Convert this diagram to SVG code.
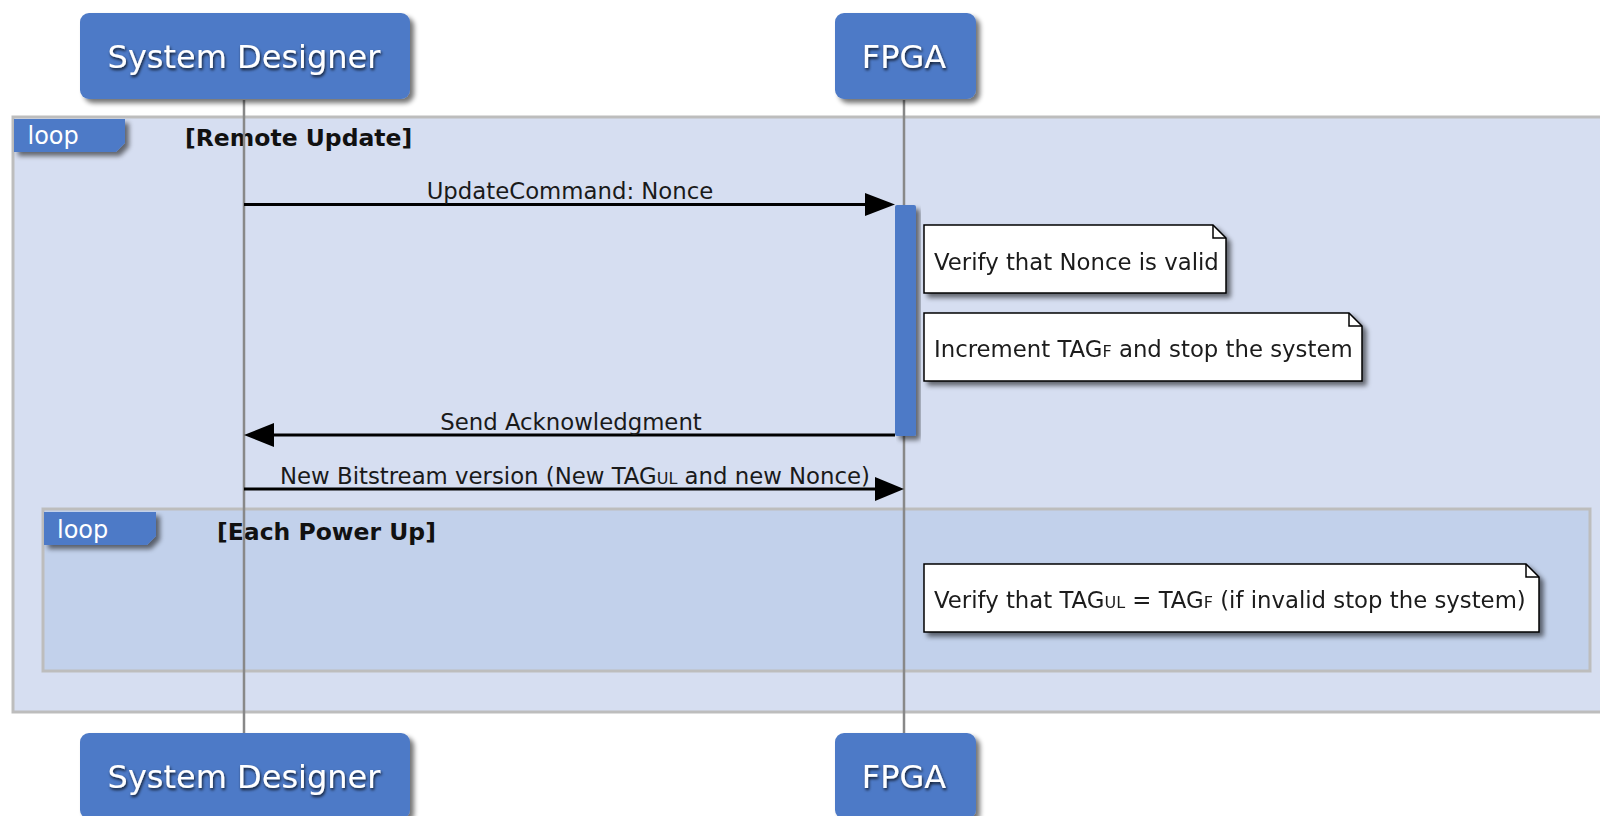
<svg xmlns="http://www.w3.org/2000/svg" width="1600" height="816" viewBox="0 0 1600 816">
  <style>
    .actor { fill: #4E7AC7; }
    .actorText { font-family: "DejaVu Sans", Verdana, sans-serif; font-size: 32px; fill: #FFFFFF; text-anchor: middle; }
    .frameOuter { fill: #D6DEF1; stroke: #BDBDBD; stroke-width: 3; }
    .frameInner { fill: #C2D1EB; stroke: #BDBDBD; stroke-width: 3; }
    .tab { fill: #4E7AC7; }
    .tabText { font-family: "DejaVu Sans", Verdana, sans-serif; font-size: 24px; fill: #FFFFFF; }
    .guard { font-family: "DejaVu Sans", Verdana, sans-serif; font-size: 23.5px; font-weight: bold; fill: #111111; }
    .lifeline { stroke: #888888; stroke-width: 2.5; fill: none; }
    .msg { stroke: #000000; stroke-width: 3; fill: none; }
    .head { fill: #000000; }
    .label { font-family: "DejaVu Sans", Verdana, sans-serif; font-size: 22.8px; fill: #1A1A1A; text-anchor: middle; }
    .note { fill: #FFFFFF; stroke: #000000; stroke-width: 1.5; }
    .fold { fill: none; stroke: #000000; stroke-width: 1.5; }
    .noteText { font-family: "DejaVu Sans", Verdana, sans-serif; font-size: 22.8px; fill: #1A1A1A; }
    .sub { font-size: 16px; }
  </style>
  <defs>
    <filter id="shadow" x="-10%" y="-10%" width="130%" height="140%">
      <feGaussianBlur in="SourceAlpha" stdDeviation="2.5"/>
      <feOffset dx="4" dy="4" result="blur"/>
      <feComponentTransfer><feFuncA type="linear" slope="0.55"/></feComponentTransfer>
      <feMerge><feMergeNode/><feMergeNode in="SourceGraphic"/></feMerge>
    </filter>
    <filter id="textShadow" x="-10%" y="-30%" width="120%" height="160%">
      <feDropShadow dx="1" dy="2" stdDeviation="1.5" flood-color="#000000" flood-opacity="0.8"/>
    </filter>
  </defs>

  <!-- loop frames -->
  <g id="loop-remote-update">
    <rect class="frameOuter" x="13" y="117" width="1600" height="595"/>
    <path class="tab" filter="url(#shadow)" d="M14,119 H125 V143 L116,152 H14 Z"/>
    <text class="tabText" x="27.5" y="144">loop</text>
    <text class="guard" x="185" y="146">[Remote Update]</text>
  </g>
  <g id="loop-each-power-up">
    <rect class="frameInner" x="43" y="509" width="1547" height="162"/>
    <path class="tab" filter="url(#shadow)" d="M44,512 H156 V536 L147,545 H44 Z"/>
    <text class="tabText" x="57" y="538">loop</text>
    <text class="guard" x="217" y="540">[Each Power Up]</text>
  </g>

  <!-- lifelines -->
  <g id="lifelines">
    <line class="lifeline" x1="244" y1="100" x2="244" y2="733"/>
    <line class="lifeline" x1="904" y1="100" x2="904" y2="733"/>
  </g>

  <!-- participants -->
  <g id="system-designer-top">
    <rect class="actor" filter="url(#shadow)" x="80" y="13" width="330" height="86" rx="9"/>
    <text class="actorText" filter="url(#textShadow)" x="244" y="68">System Designer</text>
  </g>
  <g id="fpga-top">
    <rect class="actor" filter="url(#shadow)" x="835" y="13" width="141" height="86" rx="9"/>
    <text class="actorText" filter="url(#textShadow)" x="904" y="68">FPGA</text>
  </g>
  <g id="system-designer-bottom">
    <rect class="actor" filter="url(#shadow)" x="80" y="733" width="330" height="86" rx="9"/>
    <text class="actorText" filter="url(#textShadow)" x="244" y="788">System Designer</text>
  </g>
  <g id="fpga-bottom">
    <rect class="actor" filter="url(#shadow)" x="835" y="733" width="141" height="86" rx="9"/>
    <text class="actorText" filter="url(#textShadow)" x="904" y="788">FPGA</text>
  </g>

  <!-- FPGA activation -->
  <g id="fpga-activation">
    <rect class="actor" filter="url(#shadow)" x="895" y="205" width="21" height="231" rx="2"/>
  </g>

  <!-- messages -->
  <g id="connectors">
    <line class="msg" x1="244" y1="204.5" x2="868" y2="204.5"/>
    <polygon class="head" points="865,193 895,204.5 865,216"/>
    <text class="label" x="570" y="199">UpdateCommand: Nonce</text>

    <line class="msg" x1="895" y1="435" x2="270" y2="435"/>
    <polygon class="head" points="274,423 244,435 274,447"/>
    <text class="label" x="571" y="429.5">Send Acknowledgment</text>

    <line class="msg" x1="244" y1="489" x2="878" y2="489"/>
    <polygon class="head" points="875,477 904,489 875,501"/>
    <text class="label" x="575" y="484">New Bitstream version (New TAG<tspan class="sub">UL</tspan>  and new Nonce)</text>
  </g>

  <!-- notes -->
  <g id="note-verify-nonce" filter="url(#shadow)">
    <path class="note" d="M924,225 H1213 L1226,238 V293 H924 Z"/>
    <path class="fold" d="M1213,225 V238 H1226"/>
    <text class="noteText" x="934" y="269.5">Verify that Nonce is valid</text>
  </g>
  <g id="note-increment-tag" filter="url(#shadow)">
    <path class="note" d="M924,313 H1349 L1362,326 V381 H924 Z"/>
    <path class="fold" d="M1349,313 V326 H1362"/>
    <text class="noteText" x="934" y="357">Increment TAG<tspan class="sub">F</tspan> and stop the system</text>
  </g>
  <g id="note-verify-tag" filter="url(#shadow)">
    <path class="note" d="M924,564 H1526 L1539,577 V632 H924 Z"/>
    <path class="fold" d="M1526,564 V577 H1539"/>
    <text class="noteText" x="934" y="608">Verify that TAG<tspan class="sub">UL</tspan> = TAG<tspan class="sub">F</tspan> (if invalid stop the system)</text>
  </g>
</svg>
